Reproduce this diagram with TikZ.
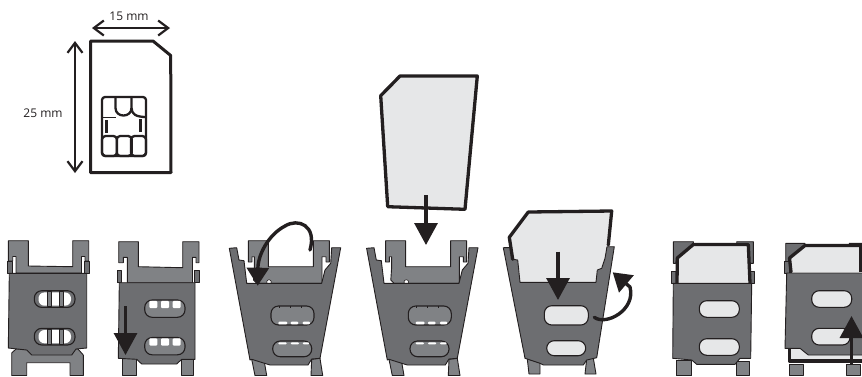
\documentclass[tikz,border=0pt]{standalone}
\usepackage{fontspec}
\setmainfont{Open Sans}
\usepackage{xcolor}
\usetikzlibrary{arrows.meta}
\definecolor{inkdark}{HTML}{231F20}
\definecolor{bodygrey}{HTML}{6D6E71}
\definecolor{clipgrey}{HTML}{808285}
\definecolor{cardgrey}{HTML}{E6E7E8}

\begin{document}
\begin{tikzpicture}[
    x=1pt, y=-1pt,
    line join=round,
    body/.style={draw=inkdark, line width=0.9pt, fill=bodygrey},
    clip part/.style={draw=inkdark, line width=0.9pt, fill=clipgrey},
    slot/.style={draw=inkdark, line width=1.1pt, rounded corners=7.5pt},
    window/.style={fill=white, rounded corners=1pt},
    card/.style={fill=cardgrey},
    card edge/.style={draw=inkdark, line width=3.3pt, line cap=round},
    chip/.style={draw=inkdark, line width=2.3pt},
    size arrow/.style={draw=inkdark, line width=1.2pt, {Straight Barb[length=10pt,width=15pt,line width=2.2pt]}-{Straight Barb[length=10pt,width=15pt,line width=2.2pt]}},
    down arrow/.style={draw=inkdark, line width=3.3pt, -{Triangle[length=22pt,width=23pt,inset=0pt]}},
    turn arrow/.style={draw=inkdark, line width=3.4pt, line cap=round, -{Triangle[length=18pt,width=22pt,inset=0pt]}},
    dim label/.style={font=\fontsize{12}{12}\selectfont, text=inkdark, inner sep=0pt}
]
    \useasboundingbox (0,0) rectangle (862,376);

    % the card with its sizes
    \node[dim label] (width label) at (129,16) {15 mm};
    \node[dim label] (height label) at (43,113) {25 mm};
    \draw[size arrow] (92,28) -- (170,28);
    \draw[size arrow] (75,41) -- (75,173);
    \draw[draw=inkdark, line width=3pt, fill=white] (90.7,41) -- (153,41) -- (170.7,55.5) -- (171,172.7) -- (90.7,172.7) -- cycle;
    \draw[chip, rounded corners=3pt] (102,97) rectangle (146,156);
    \draw[chip] (115.5,97) -- (115.5,108) .. controls (115.5,118) and (131.5,118) .. (131.5,108) -- (131.5,97);
    \draw[chip] (131.5,108) .. controls (131.5,114) and (136,117) .. (146,117);
    \draw[draw=inkdark, line width=0.5pt] (102,117) -- (116,117);
    \foreach \xleft in {102,116.7,131}
        \draw[chip, rounded corners=3.5pt] (\xleft,136) rectangle (\xleft+15,156);
    \draw[draw=inkdark, line width=3pt] (106.7,120) -- (106.7,133);
    \draw[draw=inkdark, line width=3pt] (140.5,119) -- (140.5,132);

    % first holder, closed
    \draw[clip part] (8.3,240.7) -- (28.3,240.7) -- (28.3,266) -- (72.7,266.7) -- (72.7,240.7) -- (88.7,240.7) -- (88.7,261) -- (85,261) -- (85,256.5) -- (81.5,256.5) -- (81.5,273) -- (16,273) -- (16,256.5) -- (12.7,256.5) -- (12.7,261) -- (8.3,261) -- cycle;
    \draw[body] (7,261.5) rectangle (12,273);
    \draw[body] (84.5,261.5) rectangle (89,273);
    \draw[clip part] (11.7,356) -- (11.7,375.5) -- (26.7,375.5) -- (26.7,362.7) -- (70,362.7) -- (70,375.5) -- (83.3,375.5) -- (83.3,355) -- (78,349) -- (16,349) -- (11.7,353) -- cycle;
    \draw[body] (9.3,273.3) -- (86.7,273.3) -- (86.7,348) -- (76,349) -- (71.7,355) -- (31.7,355) -- (26.7,350) -- (8.3,348) -- cycle;
    \foreach \ytop in {290.7,328.3} {
        \draw[slot, fill=bodygrey] (34.3,\ytop) rectangle (75,\ytop+16.7);
        \fill[window, rounded corners=6pt] (38.5,\ytop+1.7) rectangle (71,\ytop+15);
        \draw[clip part, line width=0.5pt] (47.3,\ytop+1) rectangle (51.3,\ytop+15.7);
        \draw[clip part, line width=0.5pt] (59.3,\ytop+1) rectangle (63,\ytop+15.7);
    }

    % second holder, pushed down
    \draw[clip part] (118.7,241.7) -- (138.3,241.7) -- (138.3,266.7) -- (182.7,267.7) -- (182.7,241.7) -- (199,241.7) -- (199,262.7) -- (196,262.7) -- (196,257.3) -- (192.5,257.3) -- (192.5,282.7) -- (127.3,282.7) -- (127.3,257.3) -- (123.3,257.3) -- (123.3,262.7) -- (118.7,262.7) -- cycle;
    \draw[body] (117.3,270.7) rectangle (121.7,282.7);
    \draw[body] (194.5,270.7) rectangle (199,282.7);
    \draw[clip part] (122.3,358) rectangle (136.7,375.5);
    \draw[clip part] (181.7,358) rectangle (193.3,375.5);
    \draw[body] (119.3,282.7) -- (195,282.7) -- (195,359.3) -- (181.7,359.3) -- (176.7,364) -- (141.7,364) -- (136.7,359.3) -- (118.3,358.3) -- cycle;
    \foreach \ytop in {300,337.5} {
        \draw[slot, fill=clipgrey] (144.7,\ytop) rectangle (185,\ytop+17.3);
        \foreach \xleft in {149.3,161,172.7}
            \fill[window] (\xleft,\ytop+0.9) rectangle (\xleft+8,\ytop+8);
    }
    \draw[down arrow] (125.5,306) -- (125.5,355);

    % third and fourth holder, opened
    \foreach \dx in {0,137.3} {
        \begin{scope}[xshift=\dx]
            \draw[clip part] (248.3,240.7) -- (268.3,240.7) -- (268.3,266.7) -- (313.3,266.7) -- (313.3,240.7) -- (329.3,240.7) -- (329.3,262) -- (326,262) -- (326,256.7) -- (322,256.7) -- (322,283.3) -- (256.7,283.3) -- (253.5,280) -- (254.3,268) -- (254.3,256.7) -- (252,256.7) -- (252,262) -- (248.3,262) -- cycle;
            \draw[draw=inkdark, line width=0.6pt, fill=white] (269,282) circle (2.3);
            \draw[clip part] (251.7,359.3) -- (255,375.5) -- (266.7,375.5) -- (264,360) -- cycle;
            \draw[clip part] (311.7,359.3) -- (311,375.5) -- (322.7,375.5) -- (320,358.3) -- cycle;
            \draw[body] (229.3,248.3) -- (236.7,247.7) -- (239,260) -- (244,260.7) -- (246.7,283.3) -- (321.7,283.3) -- (325,270) -- (330.7,263.3) -- (331.7,247.7) -- (340.7,247.7) -- (320,358.3) -- (311.7,359) -- (308,365) -- (270,365) -- (251.7,359.3) -- (250,360) -- cycle;
            \draw[slot, fill=clipgrey] (271,306) rectangle (314,325);
            \draw[slot, fill=clipgrey] (272.7,341) rectangle (311.7,356.7);
            \foreach \xleft/\xright in {278.3/287.3,290.7/298.3,302.7/310}
                \fill[window] (\xleft,321.7) rectangle (\xright,324.3);
            \foreach \xleft/\xright in {278.3/286.7,290.7/299,302.7/309.3}
                \fill[window] (\xleft,342.3) rectangle (\xright,344.3);
            \foreach \xtick in {279,290,301}
                \draw[draw=inkdark, line width=0.5pt] (\xtick,306) -- (\xtick,308);
        \end{scope}
    }
    \draw[turn arrow] (310,250) .. controls (317,225) and (298,218) .. (285,226) .. controls (268,235) and (258,255) .. (257.7,285.7);

    % card going in from above
    \draw[card, card edge] (400,76) -- (477.3,76) -- (465,209.3) -- (387.7,206.7) -- (380.7,95.7) -- cycle;
    \draw[down arrow] (426,195) -- (426,245);

    % fifth holder, card in place
    \draw[clip part] (527.3,359) -- (529,374) -- (540,374) -- (540,362) -- cycle;
    \draw[clip part] (586.7,359) -- (585,374) -- (596,374) -- (593.3,358) -- cycle;
    \draw[body] (503.3,247.7) -- (614.3,246.7) -- (596.7,357.7) -- (586.7,360) -- (583.3,365) -- (543.3,365) -- (540,363.3) -- (525,358.3) -- cycle;
    \fill[card] (528.3,211.7) -- (611.7,211) -- (606.7,246.7) -- (605,258.3) -- (601.7,268.3) -- (597.3,270) -- (596,282.3) -- (520,282.3) -- (517.7,260) -- (512.7,259.3) -- (509.3,237.3) -- cycle;
    \draw[draw=inkdark, line width=0.9pt] (512.7,259.3) -- (517.7,260) -- (520,282.3) -- (596,282.3) -- (597.3,270) -- (601.7,268.3) -- (605,258.3) -- (607,246.7);
    \draw[card edge] (512.7,259.3) -- (509.3,237.3) -- (528.3,212) -- (611.7,211) -- (608.3,245);
    \draw[slot, fill=cardgrey] (544.3,305.7) rectangle (588.3,325);
    \draw[slot, fill=cardgrey] (546.7,340.7) rectangle (585.7,355.7);
    \draw[down arrow] (558,251.7) -- (558,300);
    \draw[turn arrow] (594.3,317.3) .. controls (606,326) and (636,310) .. (630,287) -- (612.7,272.3);

    % sixth holder, closed with card
    \draw[body] (673.3,241.7) -- (693.3,241.7) -- (693.3,246) -- (677,258) -- (675.7,263.3) -- (673.3,263.3) -- cycle;
    \draw[body] (736.7,241.7) -- (753.3,241.7) -- (753.3,263.3) -- (748,263.3) -- (736.7,244) -- cycle;
    \draw[body] (671.7,271) rectangle (677,283.3);
    \draw[body] (750,271.7) rectangle (754,283.3);
    \fill[card] (693.3,244.5) -- (748.3,244.5) -- (750,283) -- (677,283) -- (677.3,258) -- cycle;
    \draw[card edge] (677,283) -- (677.3,258) -- (693.3,244.5) -- (748.3,244.5) -- (750,283);
    \draw[clip part] (676,360) rectangle (691.7,375.5);
    \draw[clip part] (736,361.7) rectangle (749.3,375.5);
    \draw[body] (673.3,283.3) -- (751.7,283.3) -- (750.7,358.3) -- (740,358.3) -- (735,364.3) -- (696.7,364.3) -- (691.7,360) -- (672.7,358.3) -- cycle;
    \draw[slot, fill=cardgrey] (699.3,300.7) rectangle (739.3,317.3);
    \draw[slot, fill=cardgrey] (699.3,338.7) rectangle (739.3,355.3);

    % last holder, pushed up and cut by the edge
    \draw[body] (785.7,243.3) -- (805,243.3) -- (805,246) -- (790,258) -- (789,263) -- (785.7,263) -- cycle;
    \draw[body] (849.3,243.3) -- (864,243.3) -- (864,260) -- (849.3,250) -- cycle;
    \draw[body] (784.3,261) rectangle (789,273);
    \fill[card] (805,245.5) -- (862,245.5) -- (862,272) -- (791.7,272) -- (789.5,258) -- cycle;
    \draw[card edge] (791,272) -- (789.5,258) -- (805,245.5) -- (864,245.5);
    \draw[draw=inkdark, line width=3pt] (860.5,245) -- (860.5,272);
    \draw[clip part] (789.3,364) rectangle (803.3,375.5);
    \draw[clip part] (846.7,364) rectangle (860,375.5);
    \draw[card edge, fill=cardgrey, line cap=butt] (789.5,345) -- (789.5,361) -- (864,361) -- (864,345);
    \draw[body] (786.7,273) -- (864,273) -- (864,355) -- (808.3,355) -- (800,348.3) -- (785,348.3) -- cycle;
    \draw[slot, fill=cardgrey] (811.7,290.7) rectangle (851.7,307.3);
    \draw[slot, fill=cardgrey] (811.7,328.3) rectangle (850,345);
    \draw[down arrow] (851.5,364) -- (851.5,316);
\end{tikzpicture}
\end{document}
